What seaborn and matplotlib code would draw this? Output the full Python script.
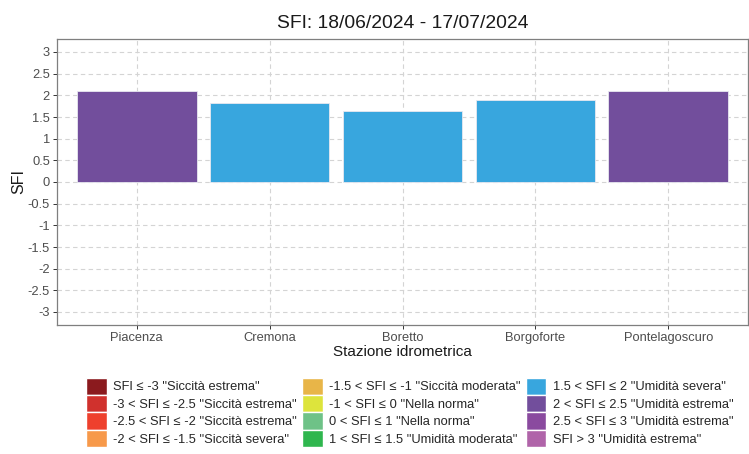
import numpy as np
import pandas as pd
import matplotlib.pyplot as plt
from matplotlib.patches import Patch
import seaborn as sns
#
# Data:
stations = ['Piacenza', 'Cremona', 'Boretto', 'Borgoforte', 'Pontelagoscuro']
sfi_values = [2.09, 1.83, 1.63, 1.90, 2.10]
class_labels = [
    'SFI ≤ -3 "Siccità estrema"',
    '-3 < SFI ≤ -2.5 "Siccità estrema"',
    '-2.5 < SFI ≤ -2 "Siccità estrema"',
    '-2 < SFI ≤ -1.5 "Siccità severa"',
    '-1.5 < SFI ≤ -1 "Siccità moderata"',
    '-1 < SFI ≤ 0 "Nella norma"',
    '0 < SFI ≤ 1 "Nella norma"',
    '1 < SFI ≤ 1.5 "Umidità moderata"',
    '1.5 < SFI ≤ 2 "Umidità severa"',
    '2 < SFI ≤ 2.5 "Umidità estrema"',
    '2.5 < SFI ≤ 3 "Umidità estrema"',
    'SFI > 3 "Umidità estrema"',
]
class_colors = [
    '#8b1a1e', '#d0312d', '#ee402d', '#f7994a',
    '#e8b548', '#dde43c', '#6ec287', '#2fb64e',
    '#38a6de', '#724e9c', '#8a4a9f', '#b064a9',
]
class_edges = [-3, -2.5, -2, -1.5, -1, 0, 1, 1.5, 2, 2.5, 3]
#
# Build the dataframe and assign each station to its class:
df = pd.DataFrame({'station': stations, 'sfi': sfi_values})
df['classe'] = [class_labels[np.searchsorted(class_edges, v, side='left')] for v in df['sfi']]
palette = dict(zip(class_labels, class_colors))
#
# Style:
sns.set_style('white')
plt.rcParams['font.family'] = ['Liberation Sans', 'DejaVu Sans']
#
# Create the figure:
fig = plt.figure(figsize=(7.49, 4.54), dpi=100)
ax = fig.add_axes([57 / 749, (454 - 325) / 454, (748 - 57) / 749, (325 - 39) / 454])
sns.barplot(
    data=df,
    x='station',
    y='sfi',
    hue='classe',
    palette=palette,
    saturation=1,
    dodge=False,
    width=0.9,
    edgecolor='#e8e8f0',
    linewidth=0.6,
    legend=False,
    ax=ax
)
ax.set_axisbelow(True)
ax.grid(True, which='major', axis='both', color='#d4d4d4', linestyle=(0, (4, 3)), linewidth=0.8)
ax.set_xlim(0.4 - 1, 5.6 - 1)
ax.set_ylim(-3.3, 3.3)
ax.set_yticks(np.arange(-3, 3.01, 0.5))
ax.set_yticklabels(['%g' % t for t in np.arange(-3, 3.01, 0.5)])
for side in ax.spines.values():
    side.set_color('#7f7f7f')
    side.set_linewidth(0.9)
ax.tick_params(axis='both', which='both', direction='out', length=3, width=0.7,
               color='#333333', labelcolor='#4d4d4d', labelsize=9.3, pad=2,
               left=True, bottom=True)
ax.set_xlabel('Stazione idrometrica', fontsize=11, color='#1a1a1a', labelpad=1)
ax.set_ylabel('SFI', fontsize=11.5, color='#1a1a1a', labelpad=1)
ax.set_title('SFI: 18/06/2024 - 17/07/2024', fontsize=13.9, color='#1a1a1a', pad=8)
#
# Legend with every class:
handles = [Patch(facecolor=c, edgecolor='white', label=l) for l, c in zip(class_labels, class_colors)]
fig.legend(
    handles=handles,
    ncol=3,
    loc='lower center',
    bbox_to_anchor=(0.547, -0.01),
    frameon=False,
    fontsize=9.3,
    handlelength=1.6,
    handleheight=1.65,
    handletextpad=0.5,
    columnspacing=0.4,
    labelspacing=0.03
)
#
# Save it:
fig.savefig('out.png', dpi=100)
